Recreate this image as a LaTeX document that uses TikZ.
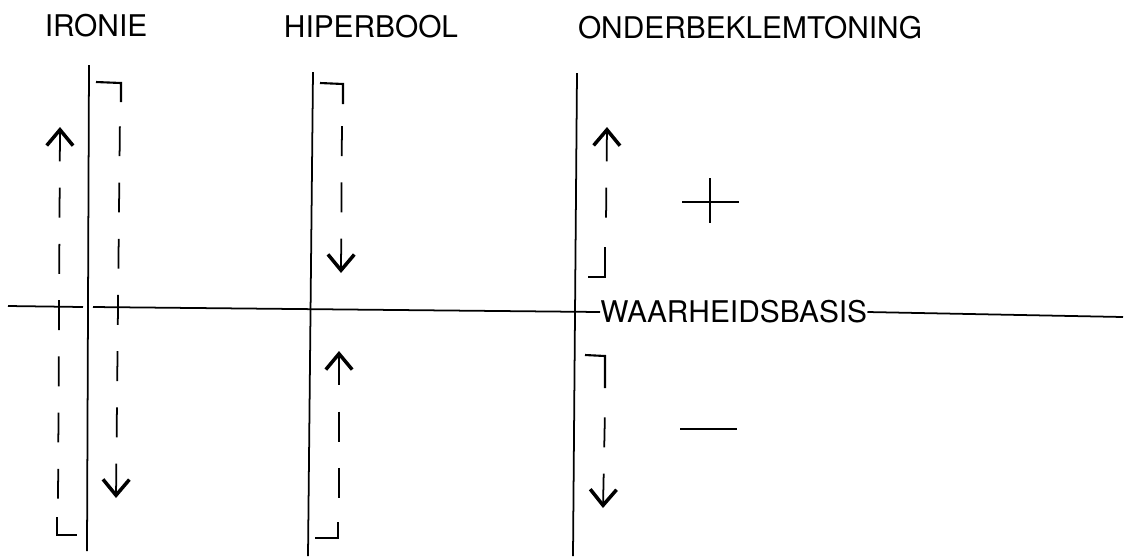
\documentclass[tikz,border=0pt]{standalone}
\usepackage{fontspec}
\setmainfont{TeX Gyre Heros}
\usetikzlibrary{arrows.meta}

\tikzset{barb/.tip={Straight Barb[length=9pt,width=15pt,line width=2pt]}}

\begin{document}
\begin{tikzpicture}[
			x=0.02cm, y=-0.02cm,
			every node/.style={inner sep=0pt, font=\fontsize{17}{20}\selectfont},
			axis/.style={line width=1pt},
			dashedarrow/.style={line width=1pt, dash pattern=on 17pt off 15pt},
			hook/.style={line width=1.2pt},
			sign/.style={line width=1pt}
			]
			\useasboundingbox (0,0) rectangle (1130,556);
			
			% Nodes
			\node (ironie) [anchor=base] at (96,36) {IRONIE};
			\node (hiperbool) [anchor=base] at (371,37) {HIPERBOOL};
			\node (onder) [anchor=base] at (750,38) {ONDERBEKLEMTONING};
			\node (basis) [anchor=west] at (600,312) {WAARHEIDSBASIS};
			
			% Axes
			\coordinate (ir_top) at (89,65);
			\coordinate (ir_bot) at (87,551);
			\coordinate (hi_top) at (313,72);
			\coordinate (hi_bot) at (308,556);
			\coordinate (on_top) at (577,73);
			\coordinate (on_bot) at (573,556);
			\coordinate (base_l) at (8,306);
			\coordinate (base_gl) at (83,307);
			\coordinate (base_gr) at (93,307);
			\coordinate (base_r) at (1123,317);
			
			\draw [axis] (ir_top) -- (ir_bot);
			\draw [axis] (hi_top) -- (hi_bot);
			\draw [axis] (on_top) -- (on_bot);
			\draw [axis] (base_l) -- (base_gl);
			\draw [axis] (base_gr) -- (basis.west);
			\draw [axis] (basis.east) -- (base_r);
			
			% Ironie
			\coordinate (ir_a1) at (60,127);
			\coordinate (ir_a2) at (58,505);
			\coordinate (ir_a3) at (57,517);
			\coordinate (ir_a4) at (57,535);
			\coordinate (ir_a5) at (77,535);
			\coordinate (ir_b1) at (116,498);
			\coordinate (ir_b2) at (120,115);
			\coordinate (ir_b3) at (121,102);
			\coordinate (ir_b4) at (121,83);
			\coordinate (ir_b5) at (96,82);
			
			% Hiperbool
			\coordinate (hi_a1) at (341,273);
			\coordinate (hi_a2) at (342,120);
			\coordinate (hi_a3) at (343,104);
			\coordinate (hi_a4) at (343,84);
			\coordinate (hi_a5) at (320,83);
			\coordinate (hi_b1) at (339,351);
			\coordinate (hi_b2) at (339,508);
			\coordinate (hi_b3) at (338,522);
			\coordinate (hi_b4) at (338,538);
			\coordinate (hi_b5) at (315,538);
			
			% Onderbeklemtoning
			\coordinate (on_a1) at (607,127);
			\coordinate (on_a2) at (606,222);
			\coordinate (on_a3) at (605,247);
			\coordinate (on_a4) at (605,277);
			\coordinate (on_a5) at (588,277);
			\coordinate (on_b1) at (603,508);
			\coordinate (on_b2) at (605,410);
			\coordinate (on_b3) at (605,388);
			\coordinate (on_b4) at (605,356);
			\coordinate (on_b5) at (585,355);
			
			% Connections
			\draw [dashedarrow, barb-] (ir_a1) -- (ir_a2);
			\draw [hook] (ir_a3) -- (ir_a4) -- (ir_a5);
			\draw [dashedarrow, barb-] (ir_b1) -- (ir_b2);
			\draw [hook] (ir_b3) -- (ir_b4) -- (ir_b5);
			\draw [dashedarrow, barb-] (hi_a1) -- (hi_a2);
			\draw [hook] (hi_a3) -- (hi_a4) -- (hi_a5);
			\draw [dashedarrow, barb-] (hi_b1) -- (hi_b2);
			\draw [hook] (hi_b3) -- (hi_b4) -- (hi_b5);
			\draw [dashedarrow, barb-] (on_a1) -- (on_a2);
			\draw [hook] (on_a3) -- (on_a4) -- (on_a5);
			\draw [dashedarrow, barb-] (on_b1) -- (on_b2);
			\draw [hook] (on_b3) -- (on_b4) -- (on_b5);
			
			% Plus and minus
			\draw [sign] (682,202) -- (739,202);
			\draw [sign] (710,178) -- (710,223);
			\draw [sign] (680,429) -- (737,429);
			
		\end{tikzpicture}
\end{document}
